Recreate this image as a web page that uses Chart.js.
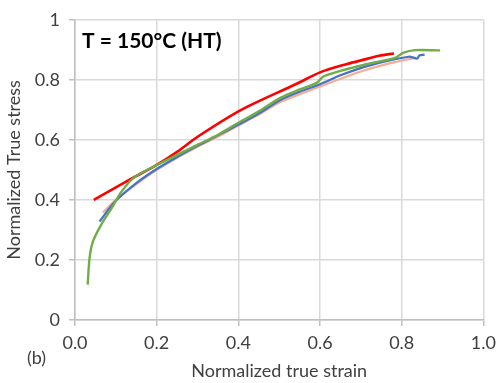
<!DOCTYPE html>
<html>
<head>
<meta charset="utf-8">
<script src="https://cdn.jsdelivr.net/npm/chart.js@4"></script>
<style>
  html, body { margin: 0; padding: 0; background: #fff; }
  #wrap { width: 502px; height: 383px; }
</style>
</head>
<body>
<div id="wrap"><canvas id="chart"></canvas></div>
<script>
// normalized true strain / stress
const redCurve = [
    [0.046, 0.400], [0.137, 0.470], [0.197, 0.514], [0.250, 0.560], [0.302, 0.612],
    [0.407, 0.700], [0.543, 0.787], [0.600, 0.825], [0.664, 0.852], [0.713, 0.869],
    [0.745, 0.880], [0.781, 0.888]
];
const greenCurve = [
    [0.031, 0.118], [0.036, 0.210], [0.044, 0.262], [0.064, 0.317], [0.089, 0.371],
    [0.113, 0.426], [0.145, 0.475], [0.197, 0.514], [0.250, 0.550], [0.302, 0.585],
    [0.350, 0.617], [0.399, 0.656], [0.450, 0.695], [0.503, 0.740], [0.550, 0.768],
    [0.592, 0.790], [0.608, 0.811], [0.650, 0.830], [0.713, 0.852], [0.785, 0.874],
    [0.803, 0.890], [0.833, 0.899], [0.894, 0.898]
];
const blueCurve = [
    [0.060, 0.328], [0.097, 0.393], [0.153, 0.459], [0.200, 0.503], [0.250, 0.543],
    [0.300, 0.580], [0.350, 0.615], [0.399, 0.650], [0.450, 0.688], [0.503, 0.733],
    [0.550, 0.760], [0.600, 0.785], [0.650, 0.815], [0.713, 0.845], [0.817, 0.877],
    [0.838, 0.871], [0.843, 0.881], [0.856, 0.884]
];
const pinkCurve = [
    [0.068, 0.358], [0.100, 0.400], [0.153, 0.455], [0.200, 0.500], [0.250, 0.540],
    [0.300, 0.577], [0.350, 0.611], [0.399, 0.647], [0.450, 0.684], [0.503, 0.726],
    [0.600, 0.778], [0.700, 0.828], [0.780, 0.858], [0.833, 0.873]
];
const xTicks = [0, 0.2, 0.4, 0.6, 0.8, 1.0];
const yTicks = [0, 0.2, 0.4, 0.6, 0.8, 1];

const FONT = "Lato, 'Open Sans', sans-serif";
const toPts = arr => arr.map(([x, y]) => ({ x, y }));

function curve(data, color, width, order) {
    return {
        data: toPts(data),
        borderColor: color,
        backgroundColor: color,
        borderWidth: width,
        pointRadius: 0,
        showLine: true,
        tension: 0.3,
        order
    };
}

// panel text: temperature label and "(b)"
const panelText = {
    id: 'panelText',
    afterDraw(chart) {
        const ctx = chart.ctx;
        ctx.save();
        ctx.fillStyle = '#000';
        ctx.font = `bold 21px ${FONT}`;
        ctx.textBaseline = 'alphabetic';
        ctx.fillText('T = 150°C (HT)', 82, 48);
        ctx.fillStyle = '#404040';
        ctx.font = `18px ${FONT}`;
        ctx.textBaseline = 'middle';
        ctx.fillText('(b)', 27, 358);
        ctx.restore();
    }
};

new Chart(document.getElementById('chart'), {
    type: 'scatter',
    data: {
        datasets: [
            curve(pinkCurve, '#f6ad94', 2.2, 3),
            curve(blueCurve, '#4472c4', 2.2, 2),
            curve(redCurve, '#ff0000', 2.6, 1),
            curve(greenCurve, '#70ad47', 2.4, 0)
        ]
    },
    options: {
        responsive: true,
        maintainAspectRatio: false,
        animation: false,
        layout: { padding: { top: 15, right: 13, left: 0, bottom: 0 } },
        plugins: { legend: { display: false }, tooltip: { enabled: false } },
        scales: {
            x: {
                type: 'linear', min: 0, max: 1,
                afterBuildTicks: s => { s.ticks = xTicks.map(v => ({ value: v })); },
                afterFit: s => { s.height = 63; },
                grid: { color: '#d9d9d9', lineWidth: 1.5, tickLength: 6, tickColor: '#bfbfbf' },
                border: { color: '#bfbfbf', width: 1.5 },
                ticks: {
                    padding: 6, color: '#404040', font: { family: FONT, size: 18 },
                    callback: v => v.toFixed(1)
                },
                title: {
                    display: true, text: 'Normalized true strain', color: '#404040',
                    font: { family: FONT, size: 18 }, padding: { top: 0, bottom: 1 }
                }
            },
            y: {
                type: 'linear', min: 0, max: 1,
                afterBuildTicks: s => { s.ticks = yTicks.map(v => ({ value: v })); },
                afterFit: s => { s.width = 75; },
                grid: { color: '#d9d9d9', lineWidth: 1.5, tickLength: 6, tickColor: '#bfbfbf' },
                border: { color: '#bfbfbf', width: 1.5 },
                ticks: {
                    padding: 9, color: '#404040', font: { family: FONT, size: 18 },
                    callback: v => String(v)
                },
                title: {
                    display: true, text: 'Normalized True stress', color: '#404040',
                    font: { family: FONT, size: 18 }, padding: { top: 3, bottom: 0 }
                }
            }
        }
    },
    plugins: [panelText]
});
</script>
</body>
</html>
